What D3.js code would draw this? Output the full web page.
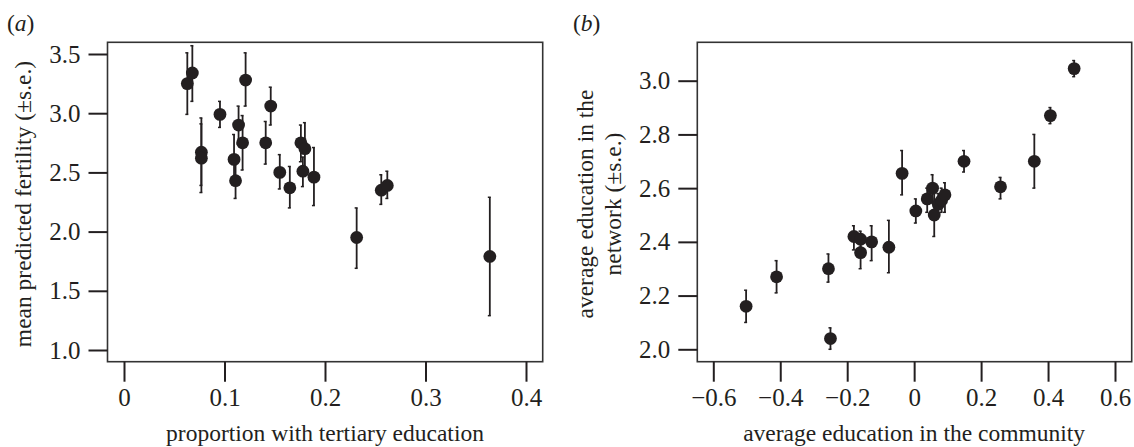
<!DOCTYPE html>
<html>
<head>
<meta charset="utf-8">
<script src="https://cdn.jsdelivr.net/npm/d3@7"></script>
<style>
  body { margin: 0; background: #fff; }
  svg text { font-family: "Liberation Serif", "DejaVu Serif", serif; fill: #231f20; }
  .axis line { stroke: #231f20; stroke-width: 2; }
  .axis path { display: none; }
  .axis text { font-size: 25px; }
</style>
</head>
<body>
<div id="chart"></div>
<script>
// panel (a): proportion with tertiary education vs mean predicted fertility
const propTertiary = [0.063, 0.068, 0.077, 0.077, 0.0955, 0.121, 0.114, 0.118, 0.1095, 0.111, 0.141,
    0.146, 0.155, 0.165, 0.176, 0.180, 0.178, 0.189, 0.2315, 0.256, 0.262, 0.364];
const fertMean = [3.25, 3.34, 2.67, 2.62, 2.99, 3.28, 2.90, 2.75, 2.61, 2.43, 2.75,
    3.06, 2.50, 2.37, 2.75, 2.70, 2.51, 2.46, 1.95, 2.35, 2.39, 1.79];
const fertLo = [2.99, 3.10, 2.39, 2.33, 2.88, 3.06, 2.74, 2.52, 2.41, 2.28, 2.57,
    2.90, 2.36, 2.20, 2.59, 2.48, 2.38, 2.22, 1.69, 2.23, 2.28, 1.29];
const fertHi = [3.51, 3.57, 2.96, 2.91, 3.10, 3.51, 3.06, 2.98, 2.82, 2.57, 2.93,
    3.22, 2.65, 2.55, 2.90, 2.92, 2.63, 2.71, 2.20, 2.48, 2.51, 2.29];
const aXTicks = [0, 0.1, 0.2, 0.3, 0.4];
const aYTicks = [1.0, 1.5, 2.0, 2.5, 3.0, 3.5];

// panel (b): average education in the community vs in the network
const commEdu = [-0.502, -0.411, -0.256, -0.250, -0.180, -0.160, -0.160, -0.127, -0.0755, -0.036, 0.005,
    0.039, 0.055, 0.060, 0.072, 0.082, 0.092, 0.149, 0.258, 0.359, 0.407, 0.478];
const netEdu = [2.16, 2.27, 2.30, 2.04, 2.42, 2.41, 2.36, 2.40, 2.38, 2.655, 2.515,
    2.56, 2.60, 2.50, 2.54, 2.555, 2.575, 2.70, 2.605, 2.70, 2.87, 3.045];
const netLo = [2.10, 2.21, 2.25, 2.00, 2.37, 2.38, 2.30, 2.33, 2.285, 2.575, 2.47,
    2.51, 2.545, 2.42, 2.50, 2.51, 2.51, 2.66, 2.56, 2.60, 2.84, 3.015];
const netHi = [2.22, 2.33, 2.355, 2.08, 2.46, 2.44, 2.42, 2.46, 2.48, 2.74, 2.56,
    2.60, 2.65, 2.58, 2.58, 2.60, 2.62, 2.74, 2.64, 2.80, 2.90, 3.075];
const bXTicks = [-0.6, -0.4, -0.2, 0, 0.2, 0.4, 0.6];
const bYTicks = [2.0, 2.2, 2.4, 2.6, 2.8, 3.0];

const width = 1134, height = 447;
const ink = "#231f20";
const titleSize = "23.5px";

const svg = d3.select("#chart").append("svg")
    .attr("width", width)
    .attr("height", height);

const fmt1 = d3.format(".1f");
const tickFmt = d => d === 0 ? "0" : fmt1(d);

function drawPanel(opts) {
    const { box, xScale, yScale, xTicks, yTicks, xs, ys, lo, hi, letter, letterX, xTitle, yTitle, yTitleX } = opts;
    const g = svg.append("g");

    // frame
    g.append("rect")
        .attr("x", box.x0).attr("y", box.y0)
        .attr("width", box.x1 - box.x0).attr("height", box.y1 - box.y0)
        .attr("fill", "none")
        .attr("stroke", "#333")
        .attr("stroke-width", 1.6);

    // axes
    g.append("g")
        .attr("class", "axis")
        .attr("transform", "translate(" + box.x0 + ",0)")
        .call(d3.axisLeft(yScale).tickValues(yTicks).tickFormat(fmt1).tickSize(19).tickPadding(8));

    g.append("g")
        .attr("class", "axis")
        .attr("transform", "translate(0," + box.y1 + ")")
        .call(d3.axisBottom(xScale).tickValues(xTicks).tickFormat(tickFmt).tickSize(20).tickPadding(7));

    // error bars
    const idx = d3.range(xs.length);
    g.append("g").selectAll("line")
        .data(idx)
        .join("line")
        .attr("x1", i => xScale(xs[i])).attr("x2", i => xScale(xs[i]))
        .attr("y1", i => yScale(lo[i])).attr("y2", i => yScale(hi[i]))
        .attr("stroke", ink)
        .attr("stroke-width", 1.8);

    // little caps
    const caps = idx.flatMap(i => [[i, lo[i]], [i, hi[i]]]);
    g.append("g").selectAll("line")
        .data(caps)
        .join("line")
        .attr("x1", d => xScale(xs[d[0]]) - 2).attr("x2", d => xScale(xs[d[0]]) + 1)
        .attr("y1", d => yScale(d[1])).attr("y2", d => yScale(d[1]))
        .attr("stroke", ink)
        .attr("stroke-width", 1.5);

    // points
    g.append("g").selectAll("circle")
        .data(idx)
        .join("circle")
        .attr("cx", i => xScale(xs[i]))
        .attr("cy", i => yScale(ys[i]))
        .attr("r", 6.4)
        .attr("fill", ink);

    // panel letter
    const lt = g.append("text")
        .attr("x", letterX).attr("y", 31)
        .style("font-size", titleSize);
    lt.append("tspan").text("(");
    lt.append("tspan").style("font-style", "italic").text(letter);
    lt.append("tspan").text(")");

    // x title
    g.append("text")
        .attr("x", (xScale.range()[0] + xScale.range()[1]) / 2)
        .attr("y", 441)
        .attr("text-anchor", "middle")
        .style("font-size", titleSize)
        .text(xTitle);

    // y title (one or two lines)
    yTitle.forEach((line, k) => {
        g.append("text")
            .attr("transform", "translate(" + yTitleX[k] + ",204) rotate(-90)")
            .attr("text-anchor", "middle")
            .style("font-size", titleSize)
            .text(line);
    });
}

const xA = d3.scaleLinear().domain([0, 0.4]).range([124, 526]);
const yA = d3.scaleLinear().domain([1.0, 3.5]).range([350, 54]);
drawPanel({
    box: { x0: 107.5, x1: 542.7, y0: 42.3, y1: 361.7 },
    xScale: xA, yScale: yA, xTicks: aXTicks, yTicks: aYTicks,
    xs: propTertiary, ys: fertMean, lo: fertLo, hi: fertHi,
    letter: "a", letterX: 7,
    xTitle: "proportion with tertiary education",
    yTitle: ["mean predicted fertility (\u00b1s.e.)"],
    yTitleX: [31]
});

const xB = d3.scaleLinear().domain([-0.6, 0.6]).range([713.3, 1115]);
const yB = d3.scaleLinear().domain([2.0, 3.0]).range([349.3, 80.7]);
drawPanel({
    box: { x0: 697.3, x1: 1131.7, y0: 42.3, y1: 361.7 },
    xScale: xB, yScale: yB, xTicks: bXTicks, yTicks: bYTicks,
    xs: commEdu, ys: netEdu, lo: netLo, hi: netHi,
    letter: "b", letterX: 573,
    xTitle: "average education in the community",
    yTitle: ["average education in the", "network (\u00b1s.e.)"],
    yTitleX: [593, 621]
});
</script>
</body>
</html>
